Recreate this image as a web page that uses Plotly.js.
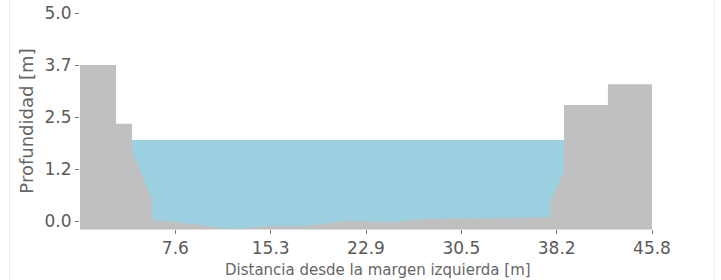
<!DOCTYPE html>
<html>
<head>
<meta charset="utf-8">
<script src="https://cdn.plot.ly/plotly-3.0.1.min.js"></script>
<style>
html,body{margin:0;padding:0;background:#fff;}
#chart{width:721px;height:280px;}
</style>
</head>
<body>
<div id="chart"></div>
<script>
// Cross-section profile (distance from left bank [m], elevation [m])
const profileX = [0, 2.89, 2.89, 4.17, 4.17, 5.8, 5.8, 7.9, 11.9, 13.2, 15.0, 18.0, 21.6, 24.8, 27.75, 32.2, 37.66, 37.66, 38.75, 38.75, 42.27, 42.27, 45.8];
const profileY = [3.75, 3.75, 2.34, 2.34, 1.67, 0.5, 0.02, -0.03, -0.175, -0.175, -0.12, -0.12, 0.01, -0.03, 0.055, 0.06, 0.10, 0.46, 1.2, 2.79, 2.79, 3.29, 3.29];
const baseLevel = -0.19;
const waterLevel = 1.95;
const waterLeft = 4.17;
const waterRight = 38.75;
const xTicks = [7.633, 15.267, 22.9, 30.533, 38.167, 45.8];
const xTickLabels = ["7.6", "15.3", "22.9", "30.5", "38.2", "45.8"];
const yTicks = [0, 1.25, 2.5, 3.75, 5.0];
const yTickLabels = ["0.0", "1.2", "2.5", "3.7", "5.0"];

const xMax = profileX[profileX.length - 1];

const water = {
  x: [waterLeft, waterRight, waterRight, waterLeft, waterLeft],
  y: [baseLevel, baseLevel, waterLevel, waterLevel, baseLevel],
  type: 'scatter', mode: 'lines', fill: 'toself',
  fillcolor: '#9bd0e0', line: {width: 0}, hoverinfo: 'skip', showlegend: false
};

const groundX = [profileX[0]].concat(profileX, [xMax, profileX[0]]);
const groundY = [baseLevel].concat(profileY, [baseLevel, baseLevel]);
const ground = {
  x: groundX, y: groundY,
  type: 'scatter', mode: 'lines', fill: 'toself',
  fillcolor: '#c0c0c0', line: {width: 0}, hoverinfo: 'skip', showlegend: false
};

const L = 79.5, R = 68.5, W = 721;
const pw = W - L - R;

const layout = {
  width: 721, height: 280,
  margin: {l: L, r: R, t: 13, b: 51, pad: 0},
  paper_bgcolor: '#fff', plot_bgcolor: '#fff',
  font: {family: 'DejaVu Sans', color: '#555'},
  xaxis: {
    range: [0, xMax], tickvals: xTicks, ticktext: xTickLabels,
    showgrid: false, zeroline: false, showline: true, linecolor: '#dddddd', linewidth: 1,
    ticks: 'outside', ticklen: 4, tickcolor: '#777', tickwidth: 1,
    tickfont: {size: 17, color: '#5a5a5a'}
  },
  yaxis: {
    range: [baseLevel, 5.0], tickvals: yTicks, ticktext: yTickLabels,
    showgrid: false, zeroline: false, showline: false,
    ticks: 'outside', ticklen: 4, tickcolor: '#777', tickwidth: 1,
    tickfont: {size: 17, color: '#5a5a5a'},
    title: {text: 'Profundidad [m]', font: {size: 18, color: '#666'}, standoff: 6}
  },
  annotations: [
    {text: 'Distancia desde la margen izquierda [m]', xref: 'paper', yref: 'paper',
     x: (378 - L) / pw, y: 0, yshift: -30, xanchor: 'center', yanchor: 'top', showarrow: false,
     font: {size: 15, color: '#666'}}
  ],
  shapes: [
    {type: 'line', xref: 'paper', yref: 'paper', x0: (9 - L) / pw, x1: (9 - L) / pw, y0: -1, y1: 2, line: {color: '#eeeeee', width: 1}},
    {type: 'line', xref: 'paper', yref: 'paper', x0: (715 - L) / pw, x1: (715 - L) / pw, y0: -1, y1: 2, line: {color: '#eeeeee', width: 1}}
  ]
};

Plotly.newPlot('chart', [water, ground], layout, {staticPlot: true, displayModeBar: false});
</script>
</body>
</html>
